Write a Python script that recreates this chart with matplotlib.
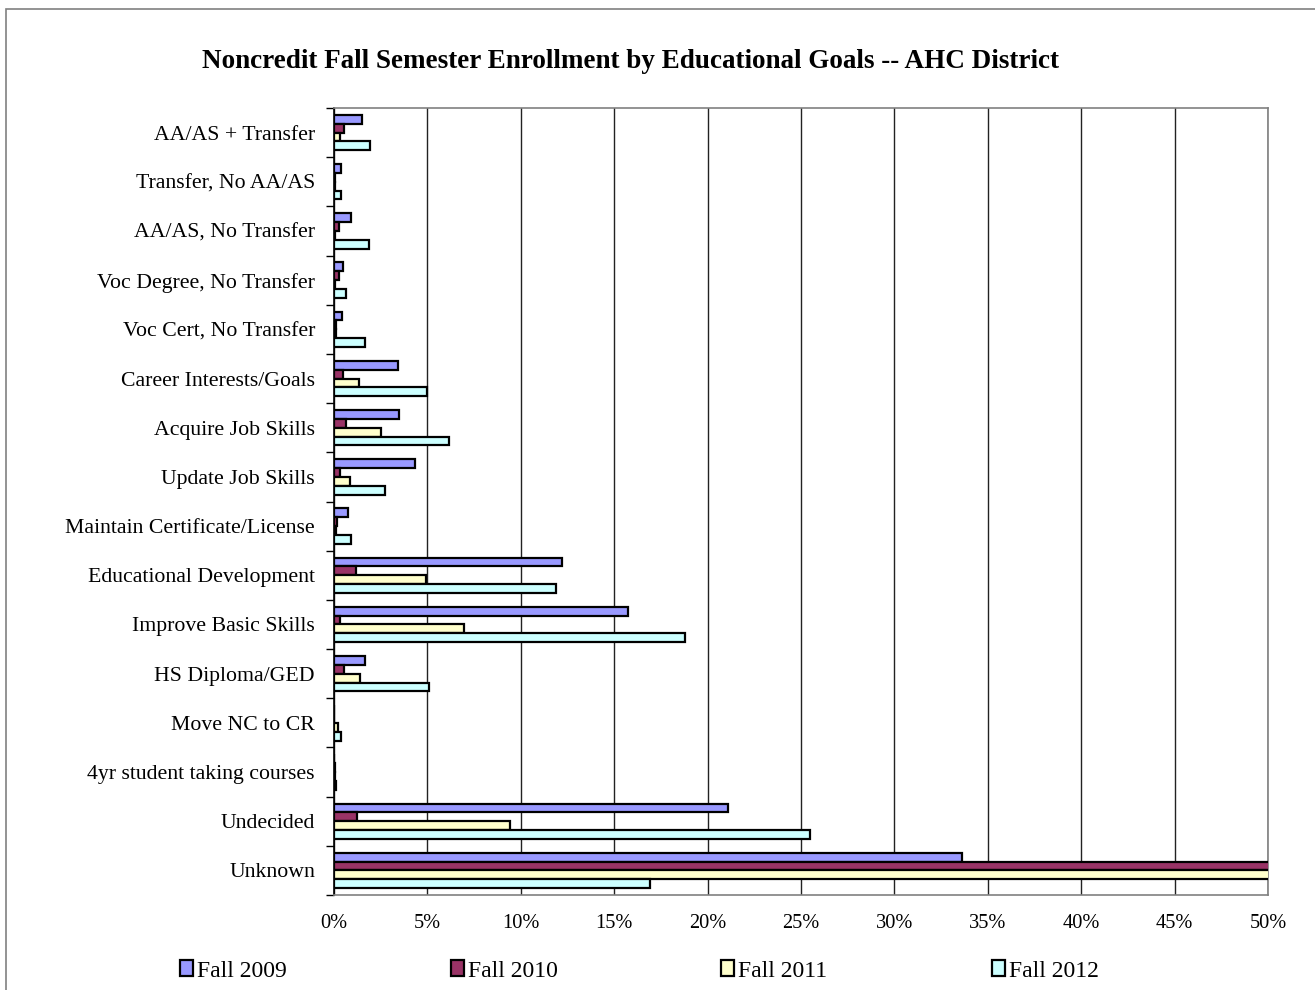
import matplotlib
matplotlib.use("Agg")
import matplotlib.pyplot as plt
import matplotlib.patches as mpatches
from matplotlib.ticker import FixedLocator, PercentFormatter
import numpy as np

plt.rcParams['font.family'] = ['Liberation Serif', 'DejaVu Serif']

categories = ["AA/AS + Transfer", "Transfer, No AA/AS", "AA/AS, No Transfer",
              "Voc Degree, No Transfer", "Voc Cert, No Transfer", "Career Interests/Goals",
              "Acquire Job Skills", "Update Job Skills", "Maintain Certificate/License",
              "Educational Development", "Improve Basic Skills", "HS Diploma/GED",
              "Move NC to CR", "4yr student taking courses", "Undecided", "Unknown"]

series_names = ["Fall 2009", "Fall 2010", "Fall 2011", "Fall 2012"]

fall_2009 = [1.48, 0.36, 0.89, 0.50, 0.43, 3.41, 3.46, 4.36, 0.73, 12.2, 15.75, 1.66, 0.0, 0.0, 21.1, 33.6]
fall_2010 = [0.54, 0.07, 0.25, 0.25, 0.12, 0.46, 0.66, 0.32, 0.18, 1.16, 0.30, 0.54, 0.0, 0.03, 1.25, 55.0]
fall_2011 = [0.32, 0.05, 0.05, 0.05, 0.10, 1.32, 2.52, 0.88, 0.10, 4.90, 6.96, 1.39, 0.20, 0.05, 9.40, 53.0]
fall_2012 = [1.93, 0.36, 1.89, 0.64, 1.66, 4.96, 6.14, 2.71, 0.91, 11.9, 18.8, 5.09, 0.39, 0.10, 25.5, 16.93]

colors = ["#9999FF", "#993366", "#FFFFCC", "#CCFFFF"]
all_series = [fall_2009, fall_2010, fall_2011, fall_2012]

fig = plt.figure(figsize=(13.15, 9.9), dpi=100)
# outer chart border (only left and top edges visible in the crop)
fig.patches.append(mpatches.Rectangle((6/1315, -0.2), 1.2, 1.2 - 9/990, transform=fig.transFigure,
                                      fill=False, edgecolor="#808080", linewidth=1.2, clip_on=False))

ax = fig.add_axes([334/1315, 1 - 895/990, (1268-334)/1315, (895-108)/990])

n = len(categories)
y = np.arange(n)
h = 0.18
for s, (vals, col, name) in enumerate(zip(all_series, colors, series_names)):
    ax.barh(y + (s - 1.5) * h, vals, height=h, color=col, edgecolor="black",
            linewidth=1.6, label=name, zorder=3)

ax.set_xlim(0, 50)
ax.set_ylim(n - 0.5, -0.5)
ax.set_xticks(np.arange(0, 51, 5))
ax.xaxis.set_major_formatter(PercentFormatter(decimals=0))
ax.grid(axis="x", color="#222222", linewidth=1.0, zorder=0)
ax.tick_params(axis="x", length=0, labelsize=14.7, pad=14)

ax.set_yticks(y)
ax.set_yticklabels(categories, fontsize=15.7)
ax.tick_params(axis="y", which="major", length=0, pad=13.7)
ax.yaxis.set_minor_locator(FixedLocator(np.arange(-0.5, n, 1.0)))
ax.tick_params(axis="y", which="minor", length=6, width=1.0, color="black")

ax.spines["left"].set_color("black")
ax.spines["left"].set_linewidth(1.2)
for sp in ["top", "right", "bottom"]:
    ax.spines[sp].set_color("#808080")
    ax.spines[sp].set_linewidth(1.2)

fig.text(630/1315, 1 - 61/990, "Noncredit Fall Semester Enrollment by Educational Goals -- AHC District",
         ha="center", va="center", fontsize=19.5, fontweight="bold")

legend_x = [180, 451, 721, 992]
for name, col, lx in zip(series_names, colors, legend_x):
    handle = mpatches.Patch(facecolor=col, edgecolor="black", linewidth=1.6)
    fig.legend([handle], [name], loc="center left", bbox_to_anchor=(lx/1315, 1 - 971/990),
               frameon=False, fontsize=17, handlelength=0.55, handleheight=0.65,
               handletextpad=0.15, borderaxespad=0, borderpad=0)

fig.savefig("out.png", dpi=100)
